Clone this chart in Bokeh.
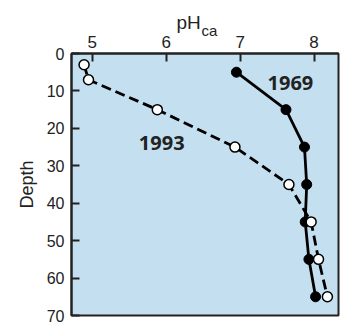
from bokeh.plotting import figure
from bokeh.models import Range1d, FixedTicker, Label, Title
from bokeh.embed import file_html
from bokeh.resources import INLINE

# Data
depth_1969 = [5, 15, 25, 35, 45, 55, 65]
ph_1969 = [6.95, 7.62, 7.87, 7.90, 7.88, 7.93, 8.02]
depth_1993 = [3, 7, 15, 25, 35, 45, 55, 65]
ph_1993 = [4.89, 4.95, 5.88, 6.93, 7.66, 7.96, 8.06, 8.18]
x_ticks = [5, 6, 7, 8]
y_ticks = [0, 10, 20, 30, 40, 50, 60, 70]
x_title = "pH"
x_title_sub = "ca"

FONT = "Liberation Sans"
DARK = "#222222"
LEFT = 71

p = figure(width=343, height=324, x_range=Range1d(4.72, 8.33), y_range=Range1d(70, 0),
           x_axis_location="above", output_backend="svg", toolbar_location=None,
           min_border_left=LEFT, min_border_top=53, min_border_right=5, min_border_bottom=9)
p.background_fill_color = "#c4dfef"
p.border_fill_color = "white"
p.grid.visible = False
p.outline_line_color = DARK
p.outline_line_width = 2

for ax in (p.xaxis[0], p.yaxis[0]):
    ax.axis_line_color = DARK
    ax.axis_line_width = 2
    ax.major_tick_line_color = DARK
    ax.major_tick_line_width = 2
    ax.major_tick_in = 8
    ax.major_tick_out = 0
    ax.minor_tick_line_color = None
    ax.major_label_text_font = FONT
    ax.major_label_text_color = DARK

p.xaxis[0].major_label_text_font_size = "17px"
p.yaxis[0].major_label_text_font_size = "16px"
p.xaxis[0].ticker = FixedTicker(ticks=x_ticks)
p.yaxis[0].ticker = FixedTicker(ticks=y_ticks)
p.xaxis[0].major_label_standoff = 6
p.yaxis[0].major_label_standoff = 7
p.yaxis[0].axis_label = "Depth"
p.yaxis[0].axis_label_text_font = FONT
p.yaxis[0].axis_label_text_font_size = "18px"
p.yaxis[0].axis_label_text_font_style = "normal"
p.yaxis[0].axis_label_text_color = DARK
p.yaxis[0].axis_label_standoff = 7

# x-axis title with subscript, as stacked titles
p.add_layout(Title(text=x_title_sub, align="left", offset=201 - LEFT, standoff=-12,
                   vertical_align="bottom", text_font=FONT, text_font_size="15px",
                   text_font_style="normal", text_color=DARK), "above")
p.add_layout(Title(text=x_title, align="left", offset=176 - LEFT, standoff=-15,
                   vertical_align="bottom", text_font=FONT, text_font_size="19px",
                   text_font_style="normal", text_color=DARK), "above")

# 1969 series
p.line(ph_1969, depth_1969, line_width=2.8, line_color="black")
p.scatter(ph_1969, depth_1969, size=10, fill_color="black", line_color="black")

# 1993 series
p.line(ph_1993, depth_1993, line_width=2.8, line_color="black", line_dash="10 5")
p.scatter(ph_1993, depth_1993, size=10, fill_color="white", line_color="black", line_width=1.5)

# Series labels
p.add_layout(Label(x=7.68, y=7.8, text="1969", text_font="Open Sans", text_font_style="bold",
                   text_font_size="20px", text_align="center", text_baseline="middle", text_color=DARK))
p.add_layout(Label(x=5.94, y=24, text="1993", text_font="Open Sans", text_font_style="bold",
                   text_font_size="20px", text_align="center", text_baseline="middle", text_color=DARK))

open("out.html", "w").write(file_html(p, INLINE))
